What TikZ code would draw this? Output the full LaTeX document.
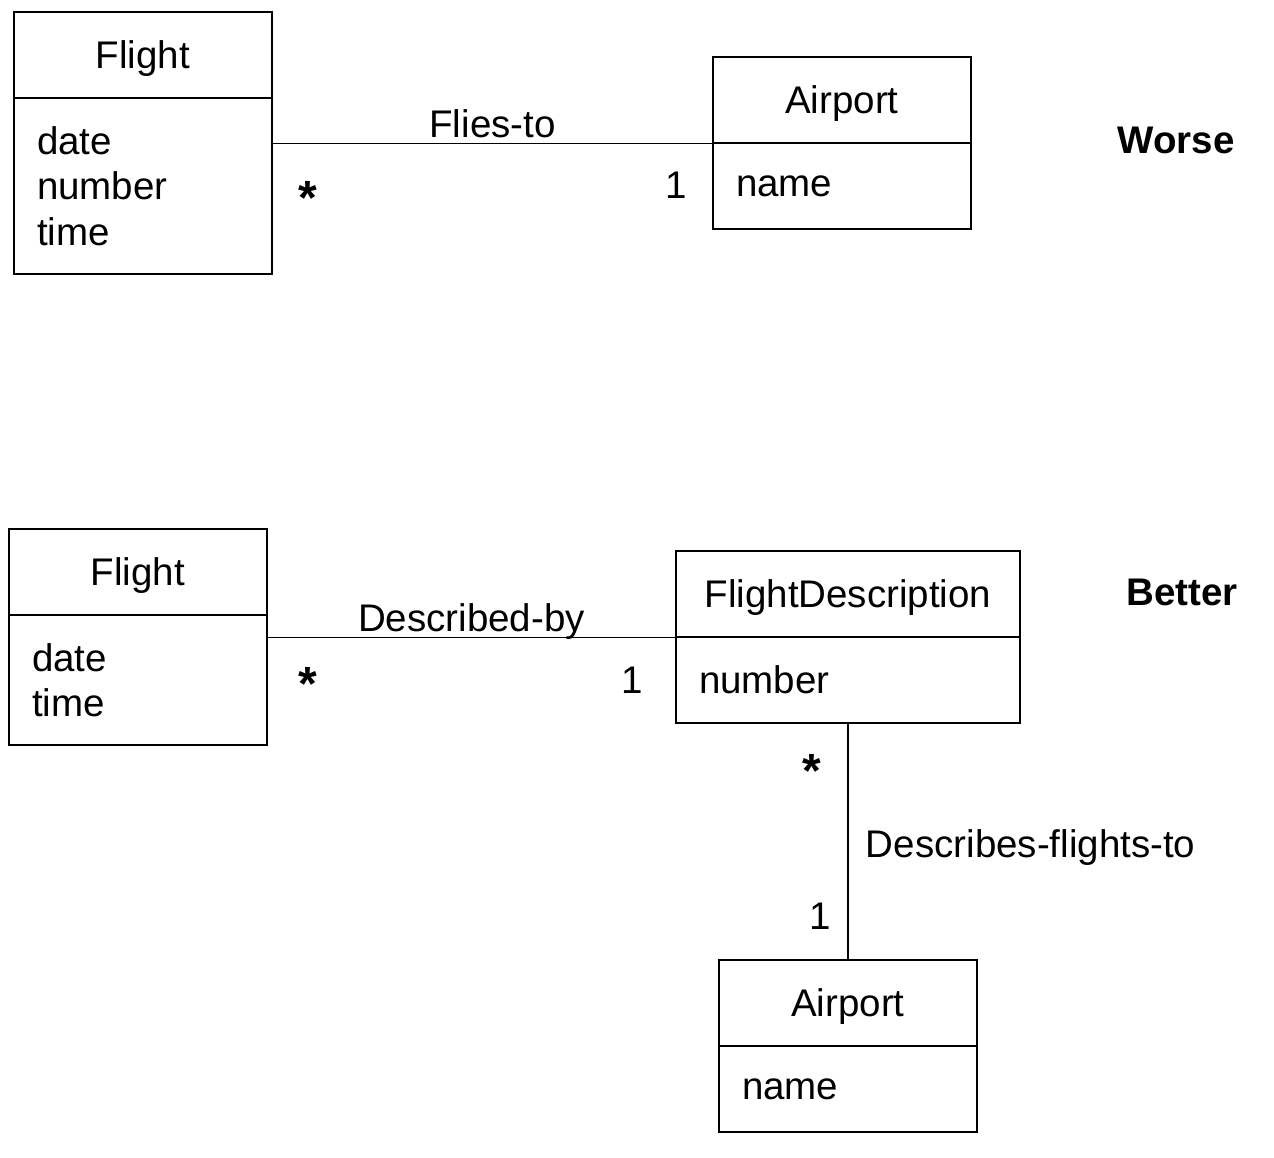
\documentclass[tikz,border=0pt]{standalone}
\usepackage{fontspec}
\setmainfont{Liberation Sans}
\usetikzlibrary{positioning}

\begin{document}
\begin{tikzpicture}[x=1pt,y=-1pt,line width=1.2pt,
    every node/.style={font=\fontsize{38.5}{45.5}\selectfont},
    hdr/.style={draw,minimum height=86pt,inner sep=0pt,text depth=0pt},
    attr/.style={draw,align=left,inner xsep=23pt,inner ysep=0pt},
    role/.style={anchor=base,yshift=6.5pt},
    mult/.style={font=\fontsize{48}{50}\selectfont\bfseries},
    title/.style={font=\fontsize{38.5}{45.5}\selectfont\bfseries}]
    \useasboundingbox (0,0) rectangle (1274,1158);
    %Worse
    \node[hdr,minimum width=258pt](fl1) at (143,55) {Flight};
    \node[attr,text width=212pt,minimum height=176pt,below=-1.2pt of fl1](fl1a) {date\\number\\time};
    \node[hdr,minimum width=258pt](ap1) at (842,100) {Airport};
    \node[attr,text width=212pt,minimum height=86pt,below=-1.2pt of ap1](ap1a) {name};
    \draw (ap1.south west -| fl1a.east) -- node[role] {Flies-to} (ap1.south west);
    \node[mult](m1) at (308,198) {*};
    \node(m2) at (676,185) {1};
    \node[title](worse) at (1176,140) {Worse};
    %Better
    \node[hdr,minimum width=258pt](fl2) at (138,572) {Flight};
    \node[attr,text width=212pt,minimum height=130pt,below=-1.2pt of fl2](fl2a) {date\\time};
    \node[hdr,minimum width=344pt](fd) at (848,594) {FlightDescription};
    \node[attr,text width=298pt,minimum height=86pt,below=-1.2pt of fd](fda) {number};
    \node[hdr,minimum width=258pt](ap2) at (848,1003) {Airport};
    \node[attr,text width=212pt,minimum height=86pt,below=-1.2pt of ap2](ap2a) {name};
    \draw (fd.south west -| fl2a.east) -- node[role] {Described-by} (fd.south west);
    \draw (fda.south) -- node[right=14pt,yshift=-6pt] {Describes-flights-to} (ap2.north);
    \node[mult](m3) at (308,684) {*};
    \node(m4) at (632,680) {1};
    \node[mult](m5) at (812,771) {*};
    \node(m6) at (820,916) {1};
    \node[title](better) at (1182,592) {Better};
\end{tikzpicture}
\end{document}
